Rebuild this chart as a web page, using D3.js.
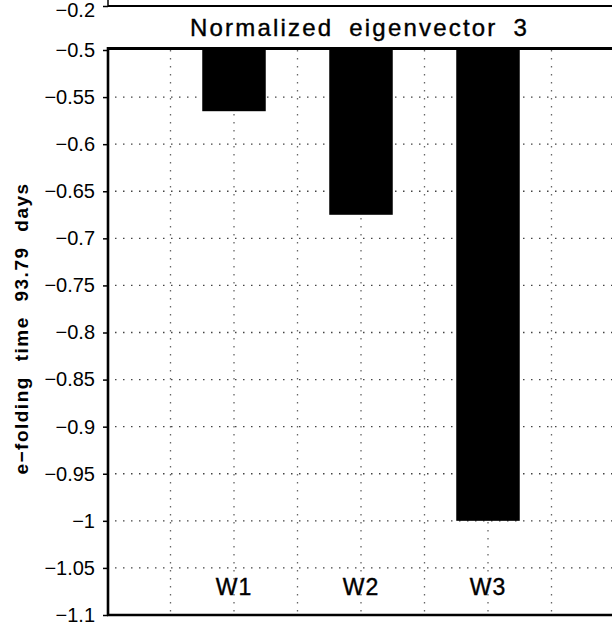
<!DOCTYPE html>
<html><head><meta charset="utf-8">
<script src="https://cdn.jsdelivr.net/npm/d3@7"></script>
<style>
html,body{margin:0;padding:0;background:#fff;}
svg{display:block;}
text{font-family:"Liberation Sans",Arial,Helvetica,sans-serif;fill:#000;}
</style></head>
<body><svg id="c" width="612" height="628"></svg>
<script>
const categories = ["W1", "W2", "W3"];
const values = [-0.565, -0.675, -1.0];
const yTicks = [-0.2, -0.5, -0.55, -0.6, -0.65, -0.7, -0.75, -0.8, -0.85, -0.9, -0.95, -1, -1.05, -1.1];
const yGrid = [-0.55, -0.6, -0.65, -0.7, -0.75, -0.8, -0.85, -0.9, -0.95, -1, -1.05];
const xGrid = [0.5, 1, 1.5, 2, 2.5, 3, 3.5];
const title = "Normalized eigenvector 3";
const yTitle = "e\u2212folding time 93.79 days";

const svg = d3.select("#c");
const x = d3.scaleLinear().domain([0, 4]).range([107, 615]);
const y = d3.scaleLinear().domain([-1.1, -0.5, -0.2]).range([615, 50, 6]);
const fmt = d => (d < 0 ? "\u2212" : "") + String(Math.abs(d));

// gridlines
svg.append("g").selectAll("line").data(yGrid).join("line")
  .attr("x1", x(0)).attr("x2", 612)
  .attr("y1", d => y(d)).attr("y2", d => y(d))
  .attr("stroke", "#444").attr("stroke-width", 1.4)
  .attr("stroke-dasharray", "1.5,6.5");
svg.append("g").selectAll("line").data(xGrid).join("line")
  .attr("x1", d => x(d)).attr("x2", d => x(d))
  .attr("y1", y(-0.5)).attr("y2", y(-1.1))
  .attr("stroke", "#666").attr("stroke-width", 1.3)
  .attr("stroke-dasharray", "1.5,6.5");

// bars
svg.append("g").selectAll("rect").data(values).join("rect")
  .attr("x", (d, i) => x(i + 1 - 0.25))
  .attr("width", x(0.5) - x(0))
  .attr("y", y(-0.5) - 1)
  .attr("height", d => y(d) - y(-0.5) + 1)
  .attr("fill", "#000");

// category labels inside plot
svg.append("g").selectAll("text").data(categories).join("text")
  .attr("x", (d, i) => x(i + 1))
  .attr("y", y(-1.0785))
  .attr("text-anchor", "middle")
  .attr("font-size", 23)
  .attr("letter-spacing", 1)
  .attr("stroke", "#000").attr("stroke-width", 0.4)
  .text(d => d);

// y axis
const yAxis = d3.axisLeft(y).tickValues(yTicks).tickFormat(fmt).tickSize(5).tickPadding(8);
const ga = svg.append("g").attr("transform", `translate(${x(0) + 1},0)`).call(yAxis);
ga.select(".domain").remove();
ga.selectAll(".tick line").attr("stroke", "#000").attr("stroke-width", 1.5);
ga.selectAll(".tick text").attr("font-size", 20).attr("fill", "#000")
  .style("font-family", '"Liberation Sans",Arial,sans-serif');
ga.selectAll(".tick").filter(d => d === -0.2).select("text").attr("dy", "0.5em");

// frame lines
const frame = svg.append("g").attr("stroke", "#000").attr("fill", "none");
frame.append("line").attr("x1", x(0) + 1).attr("x2", 612).attr("y1", y(-0.2)).attr("y2", y(-0.2)).attr("stroke-width", 2.2);
frame.append("line").attr("x1", x(0) + 1).attr("x2", x(0) + 1).attr("y1", 0).attr("y2", y(-0.2)).attr("stroke-width", 1.5);
frame.append("line").attr("x1", x(0) + 1).attr("x2", 612).attr("y1", y(-0.5) - 1.5).attr("y2", y(-0.5) - 1.5).attr("stroke-width", 3);
frame.append("line").attr("x1", x(0) + 1).attr("x2", x(0) + 1).attr("y1", y(-0.5) - 3).attr("y2", y(-1.1) + 1).attr("stroke-width", 2.6);
frame.append("line").attr("x1", x(0)).attr("x2", 612).attr("y1", y(-1.1)).attr("y2", y(-1.1)).attr("stroke-width", 2.4);

// title
svg.append("text")
  .attr("x", (x(0) + 612) / 2).attr("y", 36)
  .attr("text-anchor", "middle")
  .attr("font-size", 24)
  .attr("letter-spacing", 2.2)
  .attr("word-spacing", 7)
  .attr("stroke", "#000").attr("stroke-width", 0.4)
  .text(title);

// y title
svg.append("text")
  .attr("transform", `translate(28,${(y(-0.5) + y(-1.1)) / 2 - 4}) rotate(-90)`)
  .attr("text-anchor", "middle")
  .attr("font-size", 19)
  .attr("font-weight", "bold")
  .attr("letter-spacing", 1.5)
  .attr("word-spacing", 8)
  .text(yTitle);
</script></body></html>
